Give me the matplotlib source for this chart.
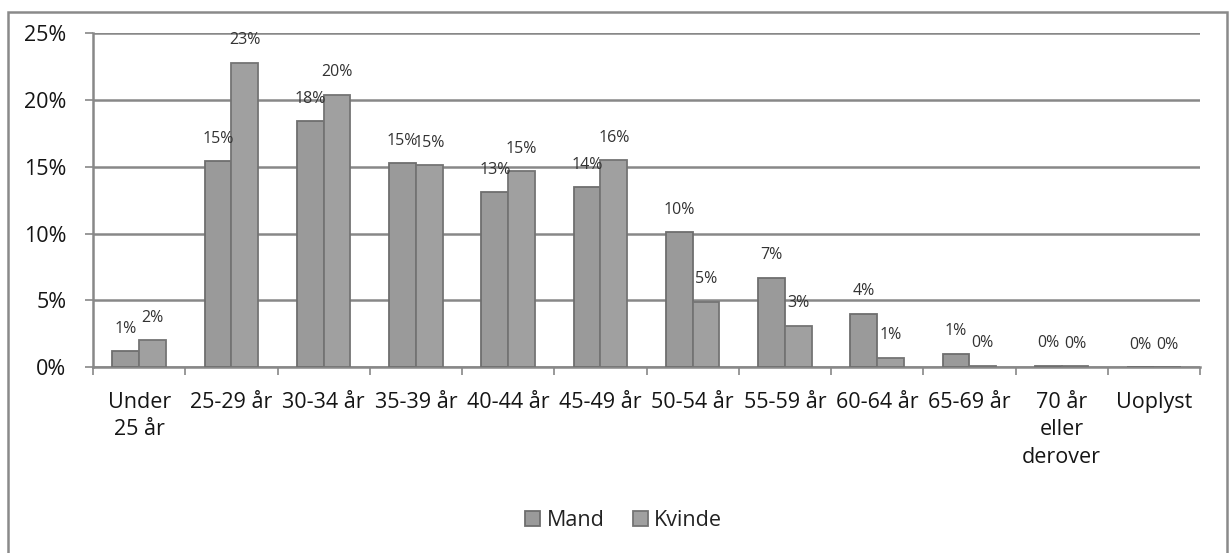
import matplotlib
matplotlib.use("Agg")
import matplotlib.pyplot as plt
import numpy as np
from matplotlib.patches import Rectangle

plt.rcParams['font.family'] = ['Open Sans', 'DejaVu Sans']

categories = ["Under\n25 år", "25-29 år", "30-34 år", "35-39 år", "40-44 år", "45-49 år",
              "50-54 år", "55-59 år", "60-64 år", "65-69 år", "70 år\neller\nderover", "Uoplyst"]
mand = [1.2, 15.4, 18.4, 15.3, 13.1, 13.5, 10.1, 6.7, 4.0, 1.0, 0.1, 0.0]
kvinde = [2.0, 22.8, 20.4, 15.1, 14.7, 15.5, 4.9, 3.1, 0.7, 0.1, 0.05, 0.0]
series_names = ["Mand", "Kvinde"]
yticks = [0, 5, 10, 15, 20, 25]

fig = plt.figure(figsize=(12.3, 5.53), dpi=100)
ax = fig.add_axes([93/1230, 1-367/553, (1200-93)/1230, (367-33.3)/553])

x = np.arange(len(categories))
w = 0.29
bars_m = ax.bar(x - w/2, mand, w, color='#9a9a9a', edgecolor='#6e6e6e', linewidth=1.3,
                label=series_names[0], zorder=3)
bars_k = ax.bar(x + w/2, kvinde, w, color='#a0a0a0', edgecolor='#747474', linewidth=1.3,
                label=series_names[1], zorder=3)

for bars, vals in ((bars_m, mand), (bars_k, kvinde)):
    for b, v in zip(bars, vals):
        ax.annotate(f"{v:.0f}%", (b.get_x() + b.get_width()/2, v),
                    xytext=(0, 16), textcoords='offset points', ha='center', va='center',
                    fontsize=11.5, color='#333333', zorder=4)

ax.set_xlim(-0.5, len(categories) - 0.5)
ax.set_ylim(0, 25)
ax.set_yticks(yticks)
ax.set_yticklabels([f"{t}%" for t in yticks])
ax.yaxis.grid(True, color='#888888', linewidth=1.8, zorder=0)
ax.set_axisbelow(True)

ax.set_xticks(x)
ax.set_xticklabels(categories, fontsize=15.5, color='#151515', linespacing=1.4)
ax.set_xticks(np.arange(len(categories) + 1) - 0.5, minor=True)
ax.tick_params(axis='x', which='major', length=0, pad=18)
ax.tick_params(axis='x', which='minor', length=6, color='#888888', width=1.2, direction='out')
ax.tick_params(axis='y', length=6, color='#888888', width=1.2, pad=13,
               labelsize=15.5, labelcolor='#151515')

for s in ['top', 'right']:
    ax.spines[s].set_visible(False)
for s in ['left', 'bottom']:
    ax.spines[s].set_color('#888888')
    ax.spines[s].set_linewidth(1.8)

fig.legend(handles=[bars_m, bars_k], labels=series_names, loc='center',
           bbox_to_anchor=(0.507, 0.058), ncol=2, frameon=False, fontsize=15.5,
           handlelength=0.7, handleheight=0.7, handletextpad=0.3, columnspacing=1.3,
           labelcolor='#222222')

# chart-area border
fig.patches.append(Rectangle((8/1230, -0.05), (1227-8)/1230, 1-12/553 + 0.05,
                             transform=fig.transFigure, fill=False,
                             edgecolor='#8a8a8a', linewidth=1.8))

fig.savefig("out.png", dpi=100, facecolor='white')
